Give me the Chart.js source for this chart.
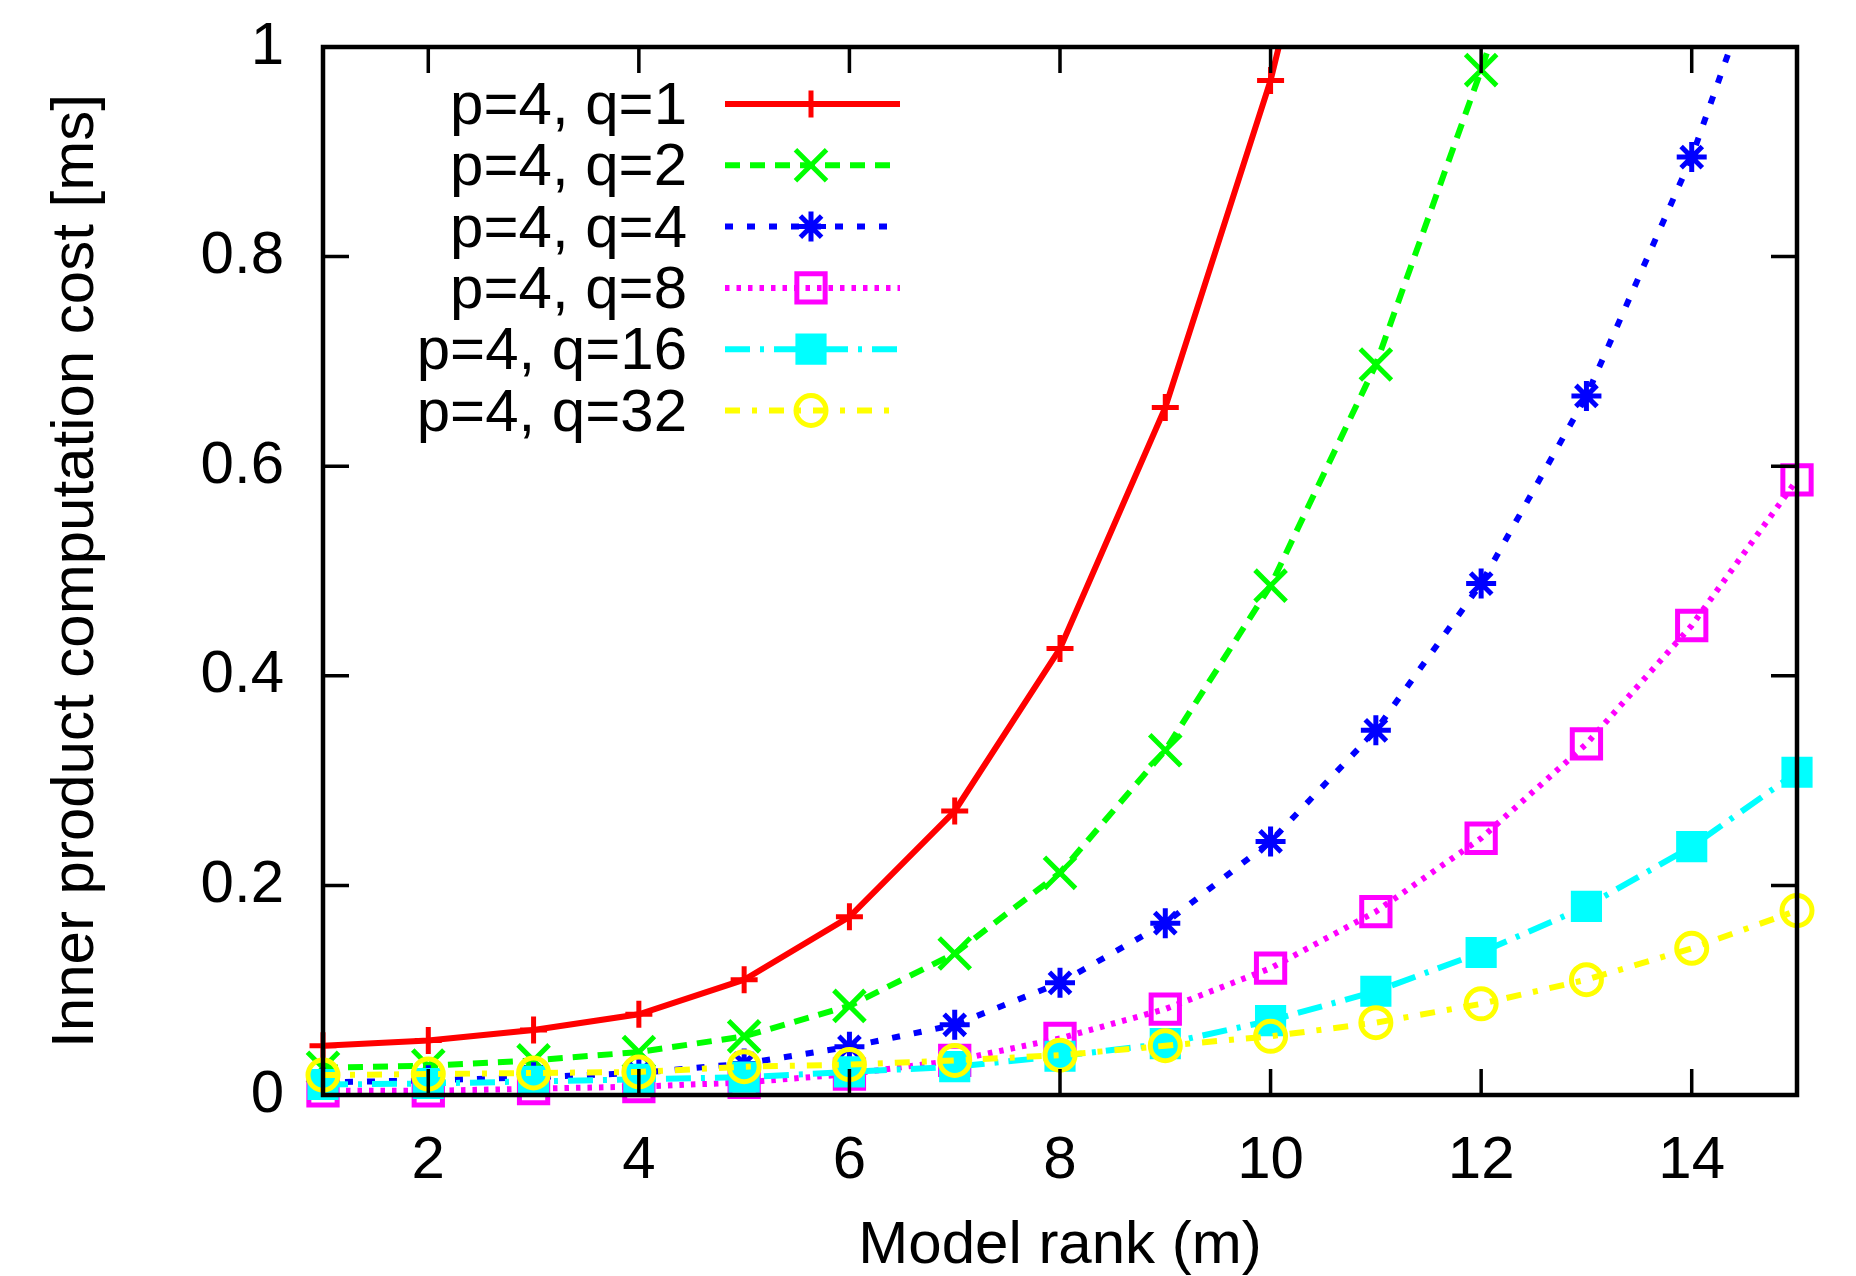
<!DOCTYPE html>
<html>
<head>
<meta charset="utf-8">
<script src="https://cdn.jsdelivr.net/npm/chart.js@4.4.1/dist/chart.umd.min.js"></script>
<style>
  html, body { margin: 0; padding: 0; background: #ffffff; }
  canvas { display: block; }
</style>
</head>
<body>
<canvas id="c" width="1856" height="1276"></canvas>
<script>
// ---- data ----
const ranks = [1, 2, 3, 4, 5, 6, 7, 8, 9, 10, 11, 12, 13, 14, 15];
const seriesLabels = ['p=4, q=1', 'p=4, q=2', 'p=4, q=4', 'p=4, q=8', 'p=4, q=16', 'p=4, q=32'];
const q1 = [0.047, 0.052, 0.062, 0.077, 0.110, 0.170, 0.271, 0.426, 0.656, 0.968, 1.38];
const q2 = [0.026, 0.028, 0.033, 0.041, 0.056, 0.085, 0.135, 0.212, 0.329, 0.486, 0.697, 0.978, 1.28];
const q4 = [0.012, 0.014, 0.017, 0.021, 0.030, 0.046, 0.067, 0.107, 0.164, 0.242, 0.348, 0.488, 0.667, 0.895, 1.18];
const q8 = [0.004, 0.004, 0.006, 0.008, 0.012, 0.020, 0.033, 0.054, 0.082, 0.121, 0.175, 0.245, 0.335, 0.448, 0.587];
const q16 = [0.010, 0.011, 0.013, 0.015, 0.017, 0.022, 0.027, 0.037, 0.049, 0.071, 0.099, 0.136, 0.180, 0.237, 0.308];
const q32 = [0.019, 0.020, 0.021, 0.022, 0.027, 0.029, 0.033, 0.038, 0.047, 0.056, 0.069, 0.087, 0.110, 0.140, 0.176];
const xTickValues = [2, 4, 6, 8, 10, 12, 14];
const yTickValues = [0, 0.2, 0.4, 0.6, 0.8, 1];
const xTitle = 'Model rank (m)';
const yTitle = 'Inner product computation cost [ms]';

// ---- styles ----
const FONT = '"Liberation Sans", Arial, Helvetica, sans-serif';
const styles = [
  { color: '#ff0000', dash: [], point: 'cross', radius: 13.5, fill: 'rgba(0,0,0,0)' },
  { color: '#00ff00', dash: [15, 10], point: 'crossRot', radius: 22, fill: 'rgba(0,0,0,0)' },
  { color: '#0000ff', dash: [8, 14], point: 'star', radius: 15, fill: 'rgba(0,0,0,0)' },
  { color: '#ff00ff', dash: [4.5, 7], point: 'rect', radius: 20, fill: 'rgba(0,0,0,0)' },
  { color: '#00ffff', dash: [25, 10, 4, 10], point: 'rect', radius: 18.5, fill: '#00ffff' },
  { color: '#ffff00', dash: [15, 12, 5, 12], point: 'circle', radius: 15, fill: 'rgba(0,0,0,0)' }
];
const allSeries = [q1, q2, q4, q8, q16, q32];

const datasets = allSeries.map((vals, i) => ({
  label: seriesLabels[i],
  data: vals.map((v, j) => ({ x: ranks[j], y: v })),
  borderColor: styles[i].color,
  backgroundColor: styles[i].fill,
  borderWidth: 6,
  borderDash: styles[i].dash,
  tension: 0,
  pointStyle: styles[i].point,
  pointRadius: styles[i].radius,
  pointHoverRadius: styles[i].radius,
  pointBorderWidth: 5,
  pointBorderColor: styles[i].color,
  pointBackgroundColor: styles[i].fill,
  order: allSeries.length - 1 - i,
  clip: { left: 40, right: 40, top: 0, bottom: 40 }
}));

const framePlugin = {
  id: 'frame',
  afterDatasetsDraw(chart) {
    const { ctx, chartArea: a, scales } = chart;
    ctx.save();
    ctx.strokeStyle = '#000';
    ctx.lineWidth = 3.5;
    const tl = 26;
    ctx.beginPath();
    scales.y.ticks.forEach(t => {
      const py = scales.y.getPixelForValue(t.value);
      ctx.moveTo(a.left, py); ctx.lineTo(a.left + tl, py);
      ctx.moveTo(a.right, py); ctx.lineTo(a.right - tl, py);
    });
    scales.x.ticks.forEach(t => {
      const px = scales.x.getPixelForValue(t.value);
      ctx.moveTo(px, a.bottom); ctx.lineTo(px, a.bottom - tl);
      ctx.moveTo(px, a.top); ctx.lineTo(px, a.top + tl);
    });
    ctx.stroke();
    ctx.lineWidth = 4.5;
    ctx.strokeRect(a.left, a.top, a.right - a.left, a.bottom - a.top);

    // legend (inside plot, text right-aligned, sample on the right)
    const textRight = 687, sx0 = 725, sx1 = 900, mx = 811, y0 = 104, dy = 61.3;
    ctx.font = '60px ' + FONT;
    ctx.textAlign = 'right';
    ctx.textBaseline = 'middle';
    chart.data.datasets.forEach((ds, i) => {
      const y = y0 + i * dy;
      ctx.fillStyle = '#000';
      ctx.fillText(ds.label, textRight, y + 3.5);
      ctx.save();
      ctx.strokeStyle = ds.borderColor;
      ctx.lineWidth = ds.borderWidth;
      ctx.setLineDash(ds.borderDash);
      ctx.beginPath();
      ctx.moveTo(sx0, y); ctx.lineTo(sx1, y);
      ctx.stroke();
      ctx.restore();
      ctx.save();
      ctx.strokeStyle = ds.pointBorderColor;
      ctx.fillStyle = ds.pointBackgroundColor;
      ctx.lineWidth = ds.pointBorderWidth;
      Chart.helpers.drawPoint(ctx, { pointStyle: ds.pointStyle, radius: ds.pointRadius, rotation: 0, borderWidth: ds.pointBorderWidth }, mx, y);
      ctx.restore();
    });
    ctx.restore();
  }
};

Chart.defaults.font.family = FONT;
Chart.defaults.color = '#000';

new Chart(document.getElementById('c'), {
  type: 'line',
  data: { datasets },
  options: {
    responsive: false,
    animation: false,
    devicePixelRatio: 1,
    events: [],
    layout: { padding: { left: 0, right: 59, top: 47, bottom: 0 } },
    plugins: { legend: { display: false }, tooltip: { enabled: false } },
    scales: {
      x: {
        type: 'linear',
        min: 1, max: 15,
        grid: { display: false, drawTicks: false },
        border: { display: false },
        afterBuildTicks: s => { s.ticks = xTickValues.map(v => ({ value: v })); },
        afterFit: s => { s.height = 181; s.paddingLeft = 0; s.paddingRight = 0; },
        ticks: { font: { size: 60 }, padding: 30, maxRotation: 0, autoSkip: false, callback: v => String(v) },
        title: { display: true, text: xTitle, font: { size: 60, lineHeight: 1 }, padding: { top: 0, bottom: 0 } }
      },
      y: {
        type: 'linear',
        min: 0, max: 1,
        grid: { display: false, drawTicks: false },
        border: { display: false },
        afterBuildTicks: s => { s.ticks = yTickValues.map(v => ({ value: v })); },
        afterFit: s => { s.width = 323; s.paddingTop = 0; s.paddingBottom = 0; },
        ticks: { font: { size: 60 }, padding: 39, autoSkip: false, callback: v => String(v) },
        title: { display: true, text: yTitle, font: { size: 60, lineHeight: 1 }, padding: { top: 46.5, bottom: 0 } }
      }
    }
  },
  plugins: [framePlugin]
});
</script>
</body>
</html>
